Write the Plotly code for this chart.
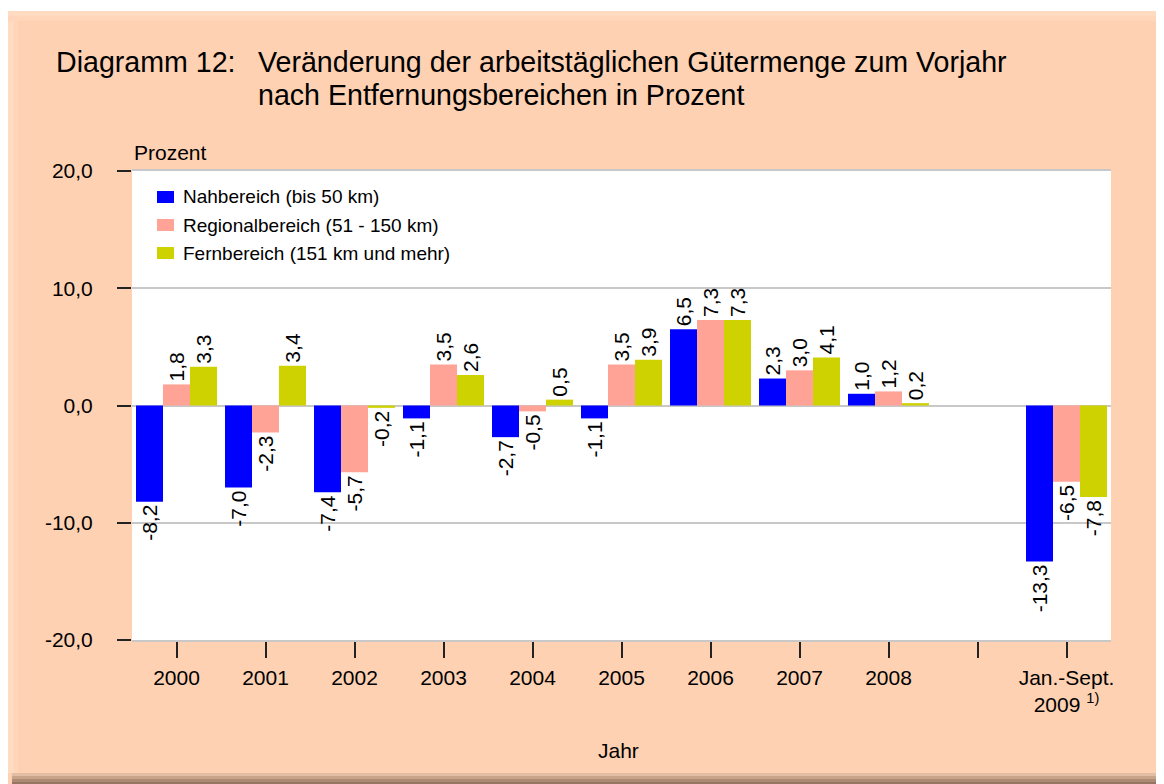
"""Diagramm 12: Veränderung der arbeitstäglichen Gütermenge zum Vorjahr."""
import plotly.graph_objects as go

# Daten
kategorien = ["2000", "2001", "2002", "2003", "2004", "2005", "2006", "2007", "2008", "",
              "Jan.-Sept.<br>2009 <sup>1)</sup>"]
nahbereich = [-8.2, -7.0, -7.4, -1.1, -2.7, -1.1, 6.5, 2.3, 1.0, None, -13.3]
regionalbereich = [1.8, -2.3, -5.7, 3.5, -0.5, 3.5, 7.3, 3.0, 1.2, None, -6.5]
fernbereich = [3.3, 3.4, -0.2, 2.6, 0.5, 3.9, 7.3, 4.1, 0.2, None, -7.8]
serien = [
    ("Nahbereich (bis 50 km)", nahbereich, "#0000FF"),
    ("Regionalbereich (51 - 150 km)", regionalbereich, "#FFA396"),
    ("Fernbereich (151 km und mehr)", fernbereich, "#CDD200"),
]
y_ticks = [-20, -10, 0, 10, 20]


def de(v):
    """Zahl mit Dezimalkomma und normalem Bindestrich."""
    return "" if v is None else f"{v:.1f}".replace(".", ",")


# Seite hat 8px Body-Rand -> Figur etwas kleiner, Koordinaten in Seitenpixeln
OFF = 8
W, H = 1156, 776
L, T = 132 - OFF, 171 - OFF
PW, PH = 979, 469
R, B = W - L - PW, H - T - PH
PEACH = "#FED1B2"
FONT = "Liberation Sans, Arial, sans-serif"


def px(x):
    return (x - OFF - L) / PW


def py(y):
    return (H - B - (y - OFF)) / PH


x_pos = list(range(len(kategorien)))

fig = go.Figure()
for name, werte, farbe in serien:
    fig.add_trace(go.Bar(
        x=x_pos, y=werte, name=name,
        marker=dict(color=farbe, line=dict(width=0)),
        text=[de(v) for v in werte], textposition="outside", textangle=-90,
        constraintext="none",
        textfont=dict(size=21, color="black", family=FONT),
        cliponaxis=False, showlegend=False,
    ))


def rect(x0, x1, y0, y1, farbe):
    return dict(type="rect", xref="paper", yref="paper",
                x0=px(x0), x1=px(x1), y0=py(y0), y1=py(y1),
                fillcolor=farbe, line_width=0, layer="below")


shapes = [
    rect(0, 1164, 0, 11, "white"),
    rect(8, 1158, 11, 16, "#FFDBC1"),
    rect(8, 13, 11, 773, "#FFDBC1"),
    rect(8, 1158, 16, 21, "#FFD6BA"),
    rect(13, 18, 16, 773, "#FFD6BA"),
]
# Schatten unten/rechts
for (a, b, c) in [(773, 776, "#E3BEA4"), (776, 779, "#C9A38A"), (779, 782, "#AD8A74"),
                  (782, 785, "#967663")]:
    shapes.append(rect(12, 1164, a, b, c))
for (a, b, c) in [(1158, 1160, "#E3BEA4"), (1160, 1162, "#C2A08A"), (1162, 1165, "#A38370")]:
    shapes.append(rect(a, b, 14, 785, c))

annotations = [
    dict(text="Diagramm 12:", x=px(54), y=py(62)),
    dict(text="Veränderung der arbeitstäglichen Gütermenge zum Vorjahr", x=px(256), y=py(62)),
    dict(text="nach Entfernungsbereichen in Prozent", x=px(256), y=py(95)),
]
for a in annotations:
    a.update(xref="paper", yref="paper", xanchor="left", yanchor="middle", showarrow=False,
             font=dict(size=28.6, family=FONT, color="black"))
annotations += [
    dict(text="Prozent", x=px(132), y=py(152), xref="paper", yref="paper", xanchor="left",
         yanchor="middle", showarrow=False, font=dict(size=21, family=FONT, color="black")),
    dict(text="Jahr", x=px(618), y=py(750), xref="paper", yref="paper", xanchor="center",
         yanchor="middle", showarrow=False, font=dict(size=21, family=FONT, color="black")),
]

# Legende im Diagramm
for i, (name, _, farbe) in enumerate(serien):
    yc = 197 + 28 * i
    shapes.append(dict(type="rect", xref="paper", yref="paper",
                       x0=px(157), x1=px(174), y0=py(yc - 6), y1=py(yc + 6),
                       fillcolor=farbe, line_width=0, layer="above"))
    annotations.append(dict(text=name, x=px(181), y=py(yc), xref="paper", yref="paper",
                            xanchor="left", yanchor="middle", showarrow=False,
                            font=dict(size=19, family=FONT, color="black")))

fig.update_layout(
    width=W, height=H, autosize=False,
    margin=dict(l=L, r=R, t=T, b=B, pad=0),
    paper_bgcolor=PEACH, plot_bgcolor="white",
    barmode="group", bargap=0.09, bargroupgap=0,
    font=dict(family=FONT, size=21, color="black"),
    showlegend=False,
    shapes=shapes,
    annotations=annotations,
    xaxis=dict(
        range=[-0.5, len(kategorien) - 0.5],
        tickmode="array", tickvals=x_pos, ticktext=kategorien,
        ticks="outside", ticklen=16, tickwidth=1.5, tickcolor="#222222",
        showgrid=False, zeroline=False,
        showline=True, linecolor="#C8C8C8", linewidth=1.5, mirror=True,
        tickfont=dict(size=21), ticklabelstandoff=2,
    ),
    yaxis=dict(
        range=[-20, 20], tickmode="array", tickvals=y_ticks,
        ticktext=[de(v) for v in y_ticks],
        ticks="outside", ticklen=14, tickwidth=1.5, tickcolor="#222222",
        showgrid=True, gridcolor="#C8C8C8", gridwidth=1.5,
        zeroline=True, zerolinecolor="#C8C8C8", zerolinewidth=1.5,
        showline=False, tickfont=dict(size=21), ticklabelstandoff=20,
    ),
)

fig.write_html("out.html")
